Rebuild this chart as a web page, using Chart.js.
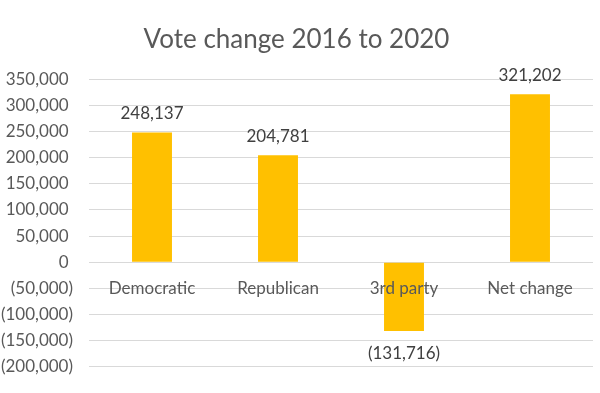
<!DOCTYPE html>
<html>
<head>
<meta charset="utf-8">
<script src="https://cdn.jsdelivr.net/npm/chart.js@4/dist/chart.umd.min.js"></script>
<style>
  html, body { margin: 0; padding: 0; background: #fff; }
  #wrap { width: 600px; height: 393px; }
</style>
</head>
<body>
<div id="wrap"><canvas id="graph" width="600" height="393"></canvas></div>
<script>
//chart data
var categories = ['Democratic', 'Republican', '3rd party', 'Net change'];
var vote_change = [248137, 204781, -131716, 321202];
var y_min = -200000;
var y_max = 350000;
var y_step = 50000;

var grey_text = '#595959';
var font_name = 'Lato, "Open Sans", sans-serif';

//format like excel: 1,000 and (1,000)
function fmt(v) {
    var s = Math.abs(v).toLocaleString('en-US');
    return v < 0 ? '(' + s + ')' : s;
}

//value labels above / below the bars
var bar_labels = {
    id: 'bar_labels',
    afterDatasetsDraw: function (chart) {
        var ctx = chart.ctx;
        var meta = chart.getDatasetMeta(0);
        ctx.save();
        ctx.fillStyle = '#404040';
        ctx.font = '17px ' + font_name;
        ctx.textAlign = 'center';
        ctx.textBaseline = 'middle';
        meta.data.forEach(function (bar, i) {
            var v = vote_change[i];
            var y = v >= 0 ? bar.y - 19 : bar.y + 22;
            ctx.fillText(fmt(v), bar.x, y);
        });
        ctx.restore();
    }
};

const ctx = document.getElementById('graph');

new Chart(ctx, {
    type: 'bar',
    data: {
        labels: categories,
        datasets: [{
            data: vote_change,
            backgroundColor: '#FFC000',
            borderWidth: 0,
            barPercentage: 0.317,
            categoryPercentage: 1
        }]
    },
    options: {
        responsive: false,
        animation: false,
        layout: {
            padding: { left: 0, right: 7, top: 0, bottom: 2 }
        },
        plugins: {
            legend: { display: false },
            tooltip: { enabled: false },
            title: {
                display: true,
                text: 'Vote change 2016 to 2020',
                color: grey_text,
                font: { family: font_name, size: 26, weight: 'normal' },
                padding: { top: 24, bottom: 24 }
            }
        },
        scales: {
            x: {
                position: { y: 0 },
                grid: { display: false },
                border: { display: false },
                ticks: {
                    z: 1,
                    color: grey_text,
                    padding: 8,
                    font: { family: font_name, size: 17 }
                }
            },
            y: {
                min: y_min,
                max: y_max,
                grid: {
                    color: '#D9D9D9',
                    lineWidth: 1,
                    drawTicks: false
                },
                border: { display: false },
                ticks: {
                    stepSize: y_step,
                    color: grey_text,
                    padding: 16,
                    font: { family: font_name, size: 17 },
                    callback: function (value) {
                        return value < 0 ? fmt(value) : fmt(value) + ' ';
                    }
                },
                afterFit: function (scale) {
                    scale.width = 89;
                }
            }
        }
    },
    plugins: [bar_labels]
});
</script>
</body>
</html>
